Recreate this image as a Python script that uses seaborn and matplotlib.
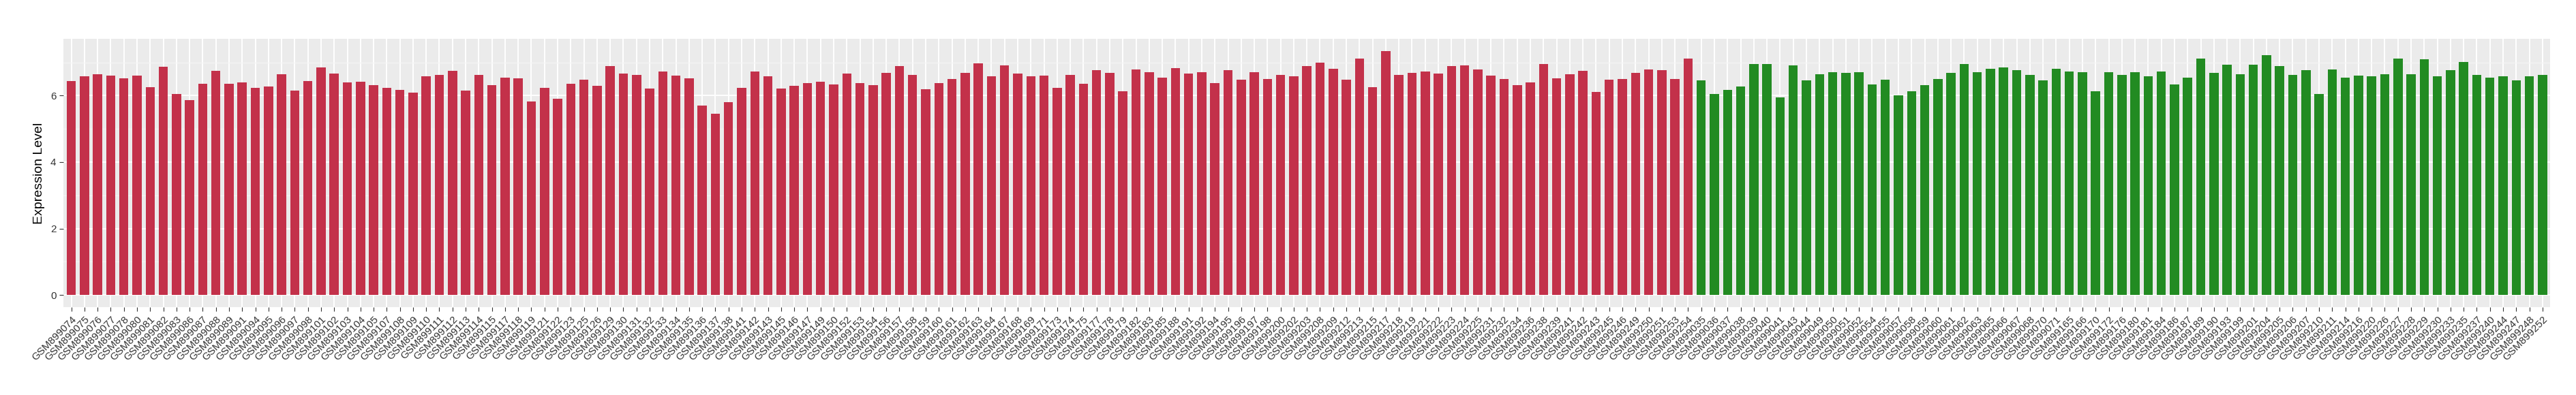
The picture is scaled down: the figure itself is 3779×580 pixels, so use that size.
import pandas as pd
import matplotlib
matplotlib.use("Agg")
import matplotlib.pyplot as plt
import seaborn as sns
from matplotlib.ticker import MultipleLocator

# sample ids (suffix after GSM899) and expression values
red_ids = ["074", "075", "076", "077", "078", "080", "081", "082", "083", "086",
           "087", "088", "089", "091", "094", "095", "096", "097", "098", "101",
           "102", "103", "104", "105", "107", "108", "109", "110", "111", "112",
           "113", "114", "115", "117", "118", "119", "121", "122", "123", "125",
           "126", "129", "130", "131", "132", "133", "134", "135", "136", "137",
           "138", "141", "142", "143", "145", "146", "147", "149", "150", "152",
           "153", "154", "156", "157", "158", "159", "160", "161", "162", "163",
           "164", "167", "168", "169", "171", "173", "174", "175", "177", "178",
           "179", "182", "183", "185", "188", "191", "192", "194", "195", "196",
           "197", "198", "200", "202", "203", "208", "209", "212", "213", "215",
           "217", "218", "219", "221", "222", "223", "224", "225", "231", "232",
           "234", "236", "238", "239", "241", "242", "243", "245", "246", "249",
           "250", "251", "253", "254"]
red_vals = [6.44, 6.57, 6.64, 6.60, 6.52, 6.60, 6.26, 6.87, 6.05, 5.87,
            6.35, 6.75, 6.35, 6.40, 6.23, 6.28, 6.64, 6.15, 6.44, 6.85,
            6.66, 6.40, 6.42, 6.32, 6.23, 6.17, 6.09, 6.57, 6.63, 6.75,
            6.16, 6.63, 6.32, 6.54, 6.52, 5.82, 6.23, 5.91, 6.35, 6.48,
            6.29, 6.89, 6.66, 6.63, 6.22, 6.72, 6.60, 6.52, 5.70, 5.46,
            5.80, 6.23, 6.72, 6.58, 6.22, 6.29, 6.38, 6.42, 6.34, 6.66,
            6.38, 6.32, 6.69, 6.89, 6.63, 6.20, 6.38, 6.50, 6.69, 6.97,
            6.57, 6.91, 6.66, 6.57, 6.60, 6.23, 6.63, 6.35, 6.77, 6.69,
            6.13, 6.79, 6.70, 6.54, 6.83, 6.66, 6.70, 6.38, 6.77, 6.48,
            6.70, 6.50, 6.63, 6.57, 6.89, 6.99, 6.81, 6.48, 7.12, 6.26,
            7.34, 6.63, 6.69, 6.72, 6.66, 6.89, 6.91, 6.79, 6.60, 6.50,
            6.32, 6.40, 6.95, 6.52, 6.64, 6.75, 6.11, 6.48, 6.50, 6.69,
            6.79, 6.77, 6.50, 7.12]

green_ids = ["035", "036", "037", "038", "039", "040", "041", "043", "044", "049",
             "050", "051", "052", "054", "055", "057", "058", "059", "060", "061",
             "062", "063", "065", "066", "067", "068", "070", "071", "165", "166",
             "170", "172", "176", "180", "181", "184", "186", "187", "189", "190",
             "193", "199", "201", "204", "205", "206", "207", "210", "211", "214",
             "216", "220", "226", "227", "228", "229", "230", "233", "235", "237",
             "240", "244", "247", "248", "252"]
green_vals = [6.46, 6.05, 6.17, 6.28, 6.95, 6.95, 5.95, 6.91, 6.46, 6.64,
              6.70, 6.69, 6.70, 6.34, 6.48, 6.01, 6.13, 6.32, 6.50, 6.69,
              6.95, 6.70, 6.81, 6.85, 6.77, 6.63, 6.46, 6.81, 6.72, 6.70,
              6.13, 6.70, 6.63, 6.70, 6.58, 6.72, 6.34, 6.54, 7.12, 6.69,
              6.93, 6.64, 6.93, 7.22, 6.89, 6.63, 6.77, 6.05, 6.79, 6.54,
              6.60, 6.58, 6.64, 7.12, 6.64, 7.10, 6.57, 6.77, 7.01, 6.63,
              6.54, 6.58, 6.46, 6.57, 6.63]

red_color = "#C3314A"
green_color = "#228B22"

df = pd.DataFrame({
    "sample": ["GSM899" + s for s in red_ids] + ["GSM899" + s for s in green_ids],
    "value": red_vals + green_vals,
    "group": ["red"] * len(red_ids) + ["green"] * len(green_ids),
})

fig = plt.figure(figsize=(37.8, 5.8), dpi=100)
ax = fig.add_axes([0.0246, 0.2224, 0.9652, 0.6793])
ax.set_facecolor("#EBEBEB")

sns.barplot(data=df, x="sample", y="value", hue="group", order=df["sample"],
            palette={"red": red_color, "green": green_color}, dodge=False,
            width=0.7, saturation=1, legend=False, ax=ax, zorder=3)

ax.set_xlim(-0.6, len(df) - 0.4)
ax.set_ylim(-0.367, 7.707)
ax.yaxis.set_major_locator(MultipleLocator(2))
ax.yaxis.set_minor_locator(MultipleLocator(1))
ax.grid(which="major", color="white", linewidth=1.4, zorder=0)
ax.grid(which="minor", axis="y", color="#F5F5F5", linewidth=0.8, zorder=0)
ax.set_axisbelow(True)
for sp in ax.spines.values():
    sp.set_visible(False)

fnt = "Liberation Sans"
ax.set_xlabel("")
ax.set_ylabel("Expression Level", fontsize=14, family=fnt, labelpad=6)
ax.tick_params(axis="both", which="major", length=4, color="#333333",
               labelcolor="#333333", labelsize=11)
ax.tick_params(axis="y", which="minor", length=0)
plt.setp(ax.get_xticklabels(), rotation=45, ha="right", rotation_mode="anchor",
         family=fnt)
plt.setp(ax.get_yticklabels(), family=fnt)

fig.savefig("out.png", dpi=100)
